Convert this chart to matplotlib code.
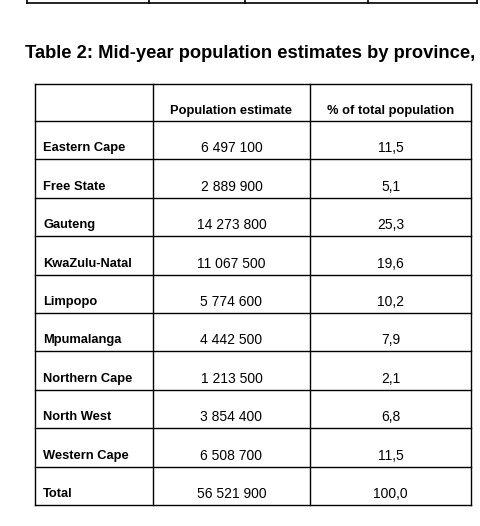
import matplotlib.pyplot as plt

# table data
provinces = ["Eastern Cape", "Free State", "Gauteng", "KwaZulu-Natal", "Limpopo",
             "Mpumalanga", "Northern Cape", "North West", "Western Cape", "Total"]
population = ["6 497 100", "2 889 900", "14 273 800", "11 067 500", "5 774 600",
              "4 442 500", "1 213 500", "3 854 400", "6 508 700", "56 521 900"]
percent = ["11,5", "5,1", "25,3", "19,6", "10,2", "7,9", "2,1", "6,8", "11,5", "100,0"]
headers = ["Population estimate", "% of total population"]

plt.rcParams['font.family'] = ['Liberation Sans', 'DejaVu Sans']

fig = plt.figure(figsize=(4.8, 5.26), dpi=100)
ax = fig.add_axes([0, 0, 1, 1])
ax.set_xlim(0, 480)
ax.set_ylim(526, 0)
ax.axis("off")

# remains of the previous table at the top
ax.plot([27, 477], [3, 3], color="black", lw=1.2)
for x in [27, 149, 245, 368, 477]:
    ax.plot([x, x], [-2, 3], color="black", lw=1.2)

# the title runs off the right edge, as in the reference
ax.text(25, 53, "Table 2: Mid-year population estimates by province, 2017",
        fontsize=13.2, fontweight="bold", va="center", ha="left", clip_on=True)

# grid
left, c1, c2, right = 35, 153, 310, 471
top, head = 84, 121
row_h = (505 - head) / len(provinces)
lines_y = [top, head] + [head + row_h * (i + 1) for i in range(len(provinces))]
for y in lines_y:
    ax.plot([left, right], [y, y], color="black", lw=1)
for x in [left, c1, c2, right]:
    ax.plot([x, x], [top, lines_y[-1]], color="black", lw=1)

ax.text((c1 + c2) / 2, 111, headers[0], fontsize=9.3, fontweight="bold", ha="center", va="center")
ax.text((c2 + right) / 2, 111, headers[1], fontsize=9.3, fontweight="bold", ha="center", va="center")

for i, (p, v, s) in enumerate(zip(provinces, population, percent)):
    y = head + row_h * (i + 1) - 11
    ax.text(43, y, p, fontsize=9.3, fontweight="bold", ha="left", va="center")
    ax.text((c1 + c2) / 2, y, v, fontsize=10, ha="center", va="center")
    ax.text((c2 + right) / 2, y, s, fontsize=10, ha="center", va="center")

fig.savefig("out.png", dpi=100)
